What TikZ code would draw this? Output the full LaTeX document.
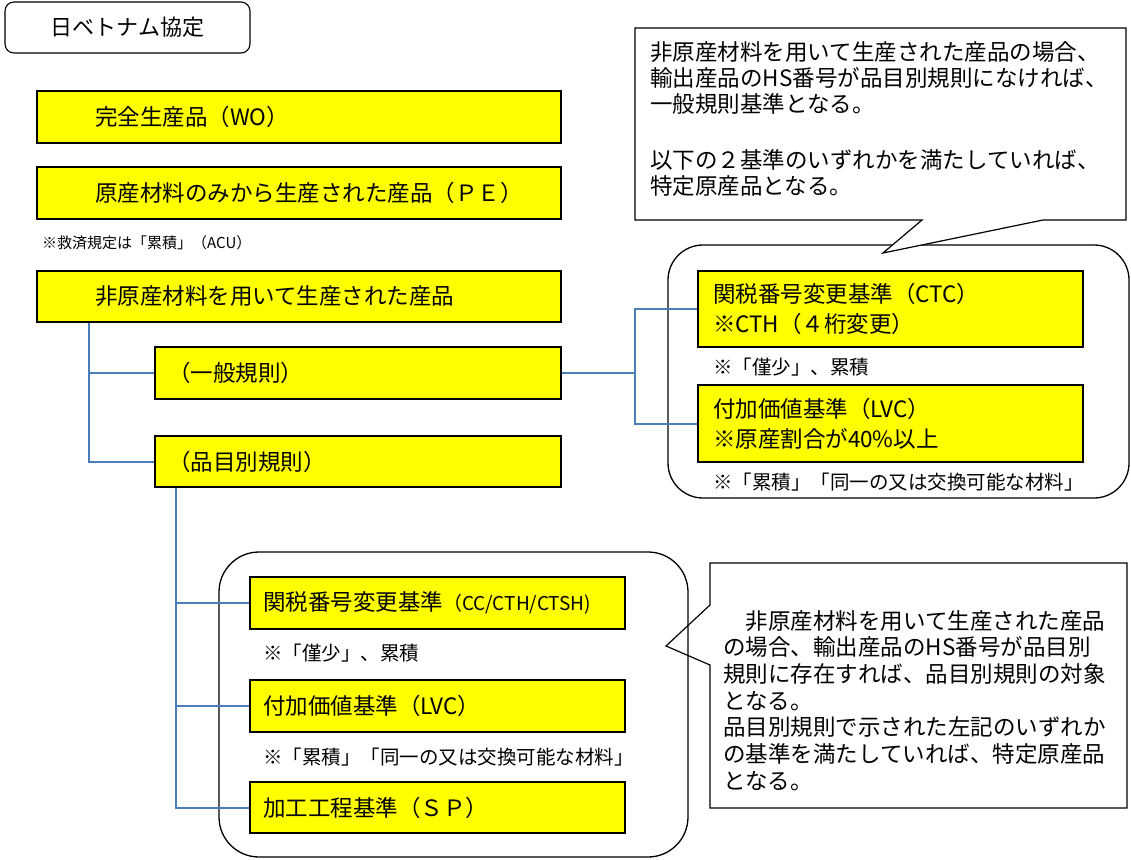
\documentclass[tikz,border=0pt]{standalone}
\usepackage{fontspec}
\setmainfont{Noto Sans CJK JP}
\usetikzlibrary{calc}
\definecolor{boxyellow}{RGB}{255,255,0}
\definecolor{connblue}{RGB}{74,126,187}
\begin{document}
\begin{tikzpicture}[x=1pt,y=-1pt,
  ybox/.style={draw=black, line width=1.4pt, fill=boxyellow, align=left,
    font=\fontsize{22.5}{30}\selectfont},
  notetext/.style={anchor=west, inner sep=0pt, font=\fontsize{19.5}{24}\selectfont},
  rbox/.style={draw=black, line width=1.3pt},
  callout/.style={draw=black, line width=1.2pt, fill=white},
  calltext/.style={anchor=north west, inner sep=0pt, align=left},
  conn/.style={draw=connblue, line width=2pt}
]
\useasboundingbox (0,0) rectangle (1131,859);

% title
\node[draw=black, line width=1.1pt, rounded corners=9pt, minimum width=245pt,
  minimum height=51pt, font=\fontsize{22}{26}\selectfont] (title) at (127.5,27.5) {日ベトナム協定};

% left column
\node[ybox, text width=500pt, inner xsep=12pt, minimum height=52pt] (wo) at (299,117) {\hspace*{46pt}完全生産品（WO）};
\node[ybox, text width=500pt, inner xsep=12pt, minimum height=52pt] (pe) at (299,193) {\hspace*{46pt}原産材料のみから生産された産品（ＰＥ）};
\node[anchor=west, inner sep=0pt, font=\fontsize{15}{18}\selectfont] (acu) at (42,243) {※救済規定は「累積」（ACU）};
\node[ybox, text width=500pt, inner xsep=12pt, minimum height=51pt] (nonorig) at (299,296.5) {\hspace*{46pt}非原産材料を用いて生産された産品};
\node[ybox, text width=382pt, inner xsep=12pt, minimum height=52pt] (gen) at (358,373) {\hspace*{1pt}（一般規則）};
\node[ybox, text width=382pt, inner xsep=12pt, minimum height=51pt] (item) at (358,461.5) {\hspace*{1pt}（品目別規則）};

% right group
\draw[rbox, rounded corners=35pt] (668,245) rectangle (1129,498);
\draw[callout] (635,28) -- (1126,28) -- (1126,220) -- (1043,220) -- (883,253) -- (922,220) -- (635,220) -- cycle;
\node[calltext, text width=461pt, font=\fontsize{22.5}{26}\selectfont] (calloutA) at (650,41)
  {非原産材料を用いて生産された産品の場合、\\輸出産品のHS番号が品目別規則になければ、\\一般規則基準となる。\\[30pt]以下の２基準のいずれかを満たしていれば、\\特定原産品となる。};

\node[ybox, text width=355pt, inner xsep=15pt, minimum height=76pt] (ctc) at (890.5,309) {関税番号変更基準（CTC）\\※CTH（４桁変更）};
\node[notetext] (noteA) at (713,367) {※「僅少」、累積};
\node[ybox, text width=355pt, inner xsep=15pt, minimum height=77pt] (lvcA) at (890.5,423.5) {付加価値基準（LVC）\\※原産割合が40\%以上};
\node[notetext] (noteB) at (713,482) {※「累積」「同一の又は交換可能な材料」};

% bottom group
\draw[callout] (710,563) -- (1127,563) -- (1127,808) -- (710,808) -- (710,665) -- (666,646) -- (710,605) -- cycle;
\draw[rbox, rounded corners=40pt] (219,552) rectangle (688,857);
\node[calltext, text width=391pt, font=\fontsize{22.5}{26.7}\selectfont] (calloutB) at (723,610)
  {　非原産材料を用いて生産された産品\\の場合、輸出産品のHS番号が品目別\\規則に存在すれば、品目別規則の対象\\となる。\\品目別規則で示された左記のいずれか\\の基準を満たしていれば、特定原産品\\となる。};

\node[ybox, text width=349pt, inner xsep=13pt, minimum height=52pt] (cc) at (437.5,603) {関税番号変更基準{\fontsize{19}{22}\selectfont （CC/CTH/CTSH)}};
\node[notetext] (noteC) at (263,653) {※「僅少」、累積};
\node[ybox, text width=349pt, inner xsep=13pt, minimum height=52pt] (lvcB) at (437.5,706) {付加価値基準（LVC）};
\node[notetext] (noteD) at (263,757) {※「累積」「同一の又は交換可能な材料」};
\node[ybox, text width=349pt, inner xsep=13pt, minimum height=51pt] (sp) at (437.5,807.5) {加工工程基準（ＳＰ）};

% connectors
\coordinate (tA) at (89,0);
\coordinate (tB) at (635,0);
\coordinate (tC) at (176,0);
\draw[conn] (tA |- nonorig.south) |- (gen.west);
\draw[conn] (tA |- nonorig.south) |- (item.west);
\draw[conn] (gen.east) -- (tB |- gen.east) |- (ctc.west);
\draw[conn] (tB |- gen.east) |- (lvcA.west);
\draw[conn] (tC |- item.south) |- (cc.west);
\draw[conn] (tC |- item.south) |- (lvcB.west);
\draw[conn] (tC |- item.south) |- (sp.west);
\end{tikzpicture}
\end{document}
